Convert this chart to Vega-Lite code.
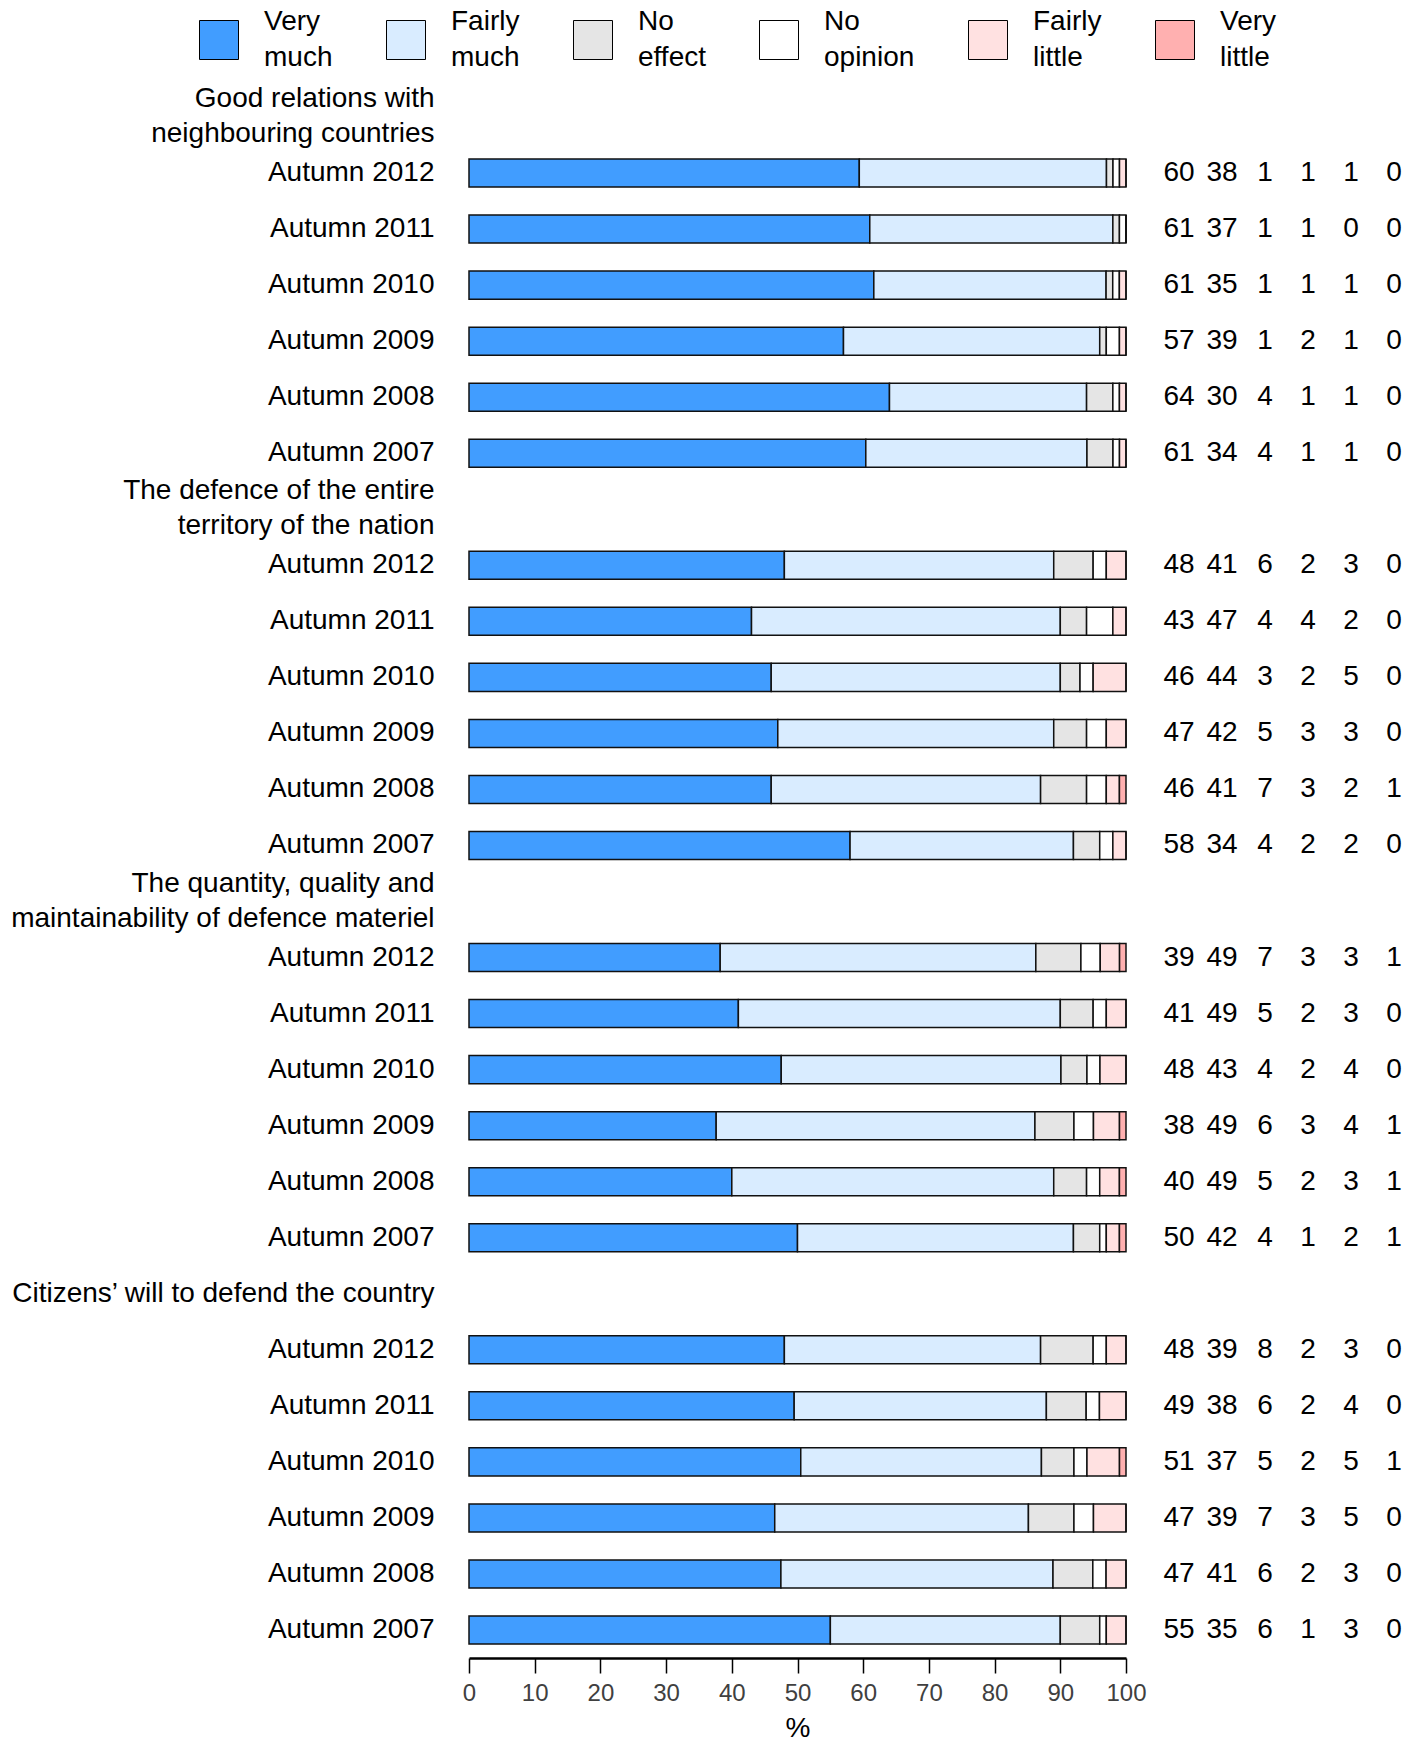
{
  "$schema": "https://vega.github.io/schema/vega-lite/v6.json",
  "autosize": {"type": "none"},
  "width": 657,
  "height": 1569,
  "padding": {"left": 469, "top": 89, "right": 295, "bottom": 85},
  "config": {"font": "Liberation Sans", "view": {"stroke": null}},
  "data": {
    "values": [
      {"row": "a1|Autumn 2012", "Very much": 60, "Fairly much": 38, "No effect": 1, "No opinion": 1, "Fairly little": 1, "Very little": 0},
      {"row": "a2|Autumn 2011", "Very much": 61, "Fairly much": 37, "No effect": 1, "No opinion": 1, "Fairly little": 0, "Very little": 0},
      {"row": "a3|Autumn 2010", "Very much": 61, "Fairly much": 35, "No effect": 1, "No opinion": 1, "Fairly little": 1, "Very little": 0},
      {"row": "a4|Autumn 2009", "Very much": 57, "Fairly much": 39, "No effect": 1, "No opinion": 2, "Fairly little": 1, "Very little": 0},
      {"row": "a5|Autumn 2008", "Very much": 64, "Fairly much": 30, "No effect": 4, "No opinion": 1, "Fairly little": 1, "Very little": 0},
      {"row": "a6|Autumn 2007", "Very much": 61, "Fairly much": 34, "No effect": 4, "No opinion": 1, "Fairly little": 1, "Very little": 0},
      {"row": "b1|Autumn 2012", "Very much": 48, "Fairly much": 41, "No effect": 6, "No opinion": 2, "Fairly little": 3, "Very little": 0},
      {"row": "b2|Autumn 2011", "Very much": 43, "Fairly much": 47, "No effect": 4, "No opinion": 4, "Fairly little": 2, "Very little": 0},
      {"row": "b3|Autumn 2010", "Very much": 46, "Fairly much": 44, "No effect": 3, "No opinion": 2, "Fairly little": 5, "Very little": 0},
      {"row": "b4|Autumn 2009", "Very much": 47, "Fairly much": 42, "No effect": 5, "No opinion": 3, "Fairly little": 3, "Very little": 0},
      {"row": "b5|Autumn 2008", "Very much": 46, "Fairly much": 41, "No effect": 7, "No opinion": 3, "Fairly little": 2, "Very little": 1},
      {"row": "b6|Autumn 2007", "Very much": 58, "Fairly much": 34, "No effect": 4, "No opinion": 2, "Fairly little": 2, "Very little": 0},
      {"row": "c1|Autumn 2012", "Very much": 39, "Fairly much": 49, "No effect": 7, "No opinion": 3, "Fairly little": 3, "Very little": 1},
      {"row": "c2|Autumn 2011", "Very much": 41, "Fairly much": 49, "No effect": 5, "No opinion": 2, "Fairly little": 3, "Very little": 0},
      {"row": "c3|Autumn 2010", "Very much": 48, "Fairly much": 43, "No effect": 4, "No opinion": 2, "Fairly little": 4, "Very little": 0},
      {"row": "c4|Autumn 2009", "Very much": 38, "Fairly much": 49, "No effect": 6, "No opinion": 3, "Fairly little": 4, "Very little": 1},
      {"row": "c5|Autumn 2008", "Very much": 40, "Fairly much": 49, "No effect": 5, "No opinion": 2, "Fairly little": 3, "Very little": 1},
      {"row": "c6|Autumn 2007", "Very much": 50, "Fairly much": 42, "No effect": 4, "No opinion": 1, "Fairly little": 2, "Very little": 1},
      {"row": "d1|Autumn 2012", "Very much": 48, "Fairly much": 39, "No effect": 8, "No opinion": 2, "Fairly little": 3, "Very little": 0},
      {"row": "d2|Autumn 2011", "Very much": 49, "Fairly much": 38, "No effect": 6, "No opinion": 2, "Fairly little": 4, "Very little": 0},
      {"row": "d3|Autumn 2010", "Very much": 51, "Fairly much": 37, "No effect": 5, "No opinion": 2, "Fairly little": 5, "Very little": 1},
      {"row": "d4|Autumn 2009", "Very much": 47, "Fairly much": 39, "No effect": 7, "No opinion": 3, "Fairly little": 5, "Very little": 0},
      {"row": "d5|Autumn 2008", "Very much": 47, "Fairly much": 41, "No effect": 6, "No opinion": 2, "Fairly little": 3, "Very little": 0},
      {"row": "d6|Autumn 2007", "Very much": 55, "Fairly much": 35, "No effect": 6, "No opinion": 1, "Fairly little": 3, "Very little": 0}
    ]
  },
  "transform": [
    {"fold": ["Very much", "Fairly much", "No effect", "No opinion", "Fairly little", "Very little"], "as": ["category", "value"]},
    {"calculate": "indexof(['Very much', 'Fairly much', 'No effect', 'No opinion', 'Fairly little', 'Very little'], datum.category)", "as": "stackOrder"}
  ],
  "encoding": {
    "y": {
      "field": "row",
      "type": "nominal",
      "scale": {
        "domain": [
          "a0|Good relations with~neighbouring countries",
          "a1|Autumn 2012", "a2|Autumn 2011", "a3|Autumn 2010", "a4|Autumn 2009", "a5|Autumn 2008", "a6|Autumn 2007",
          "b0|The defence of the entire~territory of the nation",
          "b1|Autumn 2012", "b2|Autumn 2011", "b3|Autumn 2010", "b4|Autumn 2009", "b5|Autumn 2008", "b6|Autumn 2007",
          "c0|The quantity, quality and~maintainability of defence materiel",
          "c1|Autumn 2012", "c2|Autumn 2011", "c3|Autumn 2010", "c4|Autumn 2009", "c5|Autumn 2008", "c6|Autumn 2007",
          "d0|Citizens’ will to defend the country",
          "d1|Autumn 2012", "d2|Autumn 2011", "d3|Autumn 2010", "d4|Autumn 2009", "d5|Autumn 2008", "d6|Autumn 2007"
        ],
        "paddingInner": 0.5,
        "paddingOuter": 0.25
      },
      "axis": {
        "title": null,
        "ticks": false,
        "domain": false,
        "labelFontSize": 28,
        "labelColor": "black",
        "labelPadding": 35,
        "labelLimit": 800,
        "labelLineHeight": 35,
        "labelOffset": {"condition": {"test": "indexof(datum.value, '~') >= 0", "value": -18}, "value": 0},
        "labelExpr": "split(split(datum.label, '|')[1], '~')"
      }
    }
  },
  "layer": [
    {
      "mark": {"type": "bar", "stroke": "#111111", "strokeWidth": 1.5},
      "encoding": {
        "x": {
          "field": "value",
          "type": "quantitative",
          "stack": "normalize",
          "scale": {"domain": [0, 1], "nice": false},
          "axis": {
            "values": [0, 0.1, 0.2, 0.3, 0.4, 0.5, 0.6, 0.7, 0.8, 0.9, 1],
            "labelExpr": "round(datum.value * 100)",
            "title": "%",
            "grid": false,
            "domainWidth": 2.5,
            "domainColor": "black",
            "tickColor": "black",
            "tickWidth": 1.5,
            "tickSize": 15,
            "labelFontSize": 24,
            "labelColor": "#404040",
            "labelPadding": 8,
            "labelFlush": false,
            "titleFontSize": 28,
            "titleFontWeight": "normal",
            "titleColor": "black",
            "titlePadding": 9
          }
        },
        "order": {"field": "stackOrder", "type": "quantitative", "sort": "ascending"},
        "color": {
          "field": "category",
          "type": "nominal",
          "scale": {
            "domain": ["Very much", "Fairly much", "No effect", "No opinion", "Fairly little", "Very little"],
            "range": ["#419dff", "#d9ecff", "#e5e5e5", "#ffffff", "#ffe1e1", "#ffb0b0"]
          },
          "legend": {
            "title": null,
            "orient": "none",
            "legendX": -270,
            "legendY": -69,
            "direction": "horizontal",
            "padding": 0,
            "symbolType": "square",
            "symbolSize": 1521,
            "symbolStrokeColor": "black",
            "symbolStrokeWidth": 1,
            "symbolOpacity": 1,
            "labelFontSize": 28,
            "labelColor": "black",
            "labelOffset": 25,
            "labelLimit": 300,
            "columnPadding": 51,
            "labelExpr": "split(datum.label, ' ')",
            "encode": {"labels": {"update": {"lineHeight": {"value": 36}, "dy": {"value": -18}}}}
          }
        }
      }
    },
    {
      "mark": {"type": "text", "fontSize": 28, "color": "black", "align": "center", "baseline": "middle"},
      "encoding": {
        "x": {
          "field": "category",
          "type": "nominal",
          "scale": {
            "type": "point",
            "domain": ["Very much", "Fairly much", "No effect", "No opinion", "Fairly little", "Very little"],
            "range": [710, 925],
            "padding": 0
          },
          "axis": null
        },
        "text": {"field": "value", "type": "quantitative"}
      }
    }
  ],
  "resolve": {"scale": {"x": "independent"}, "axis": {"x": "independent"}}
}
